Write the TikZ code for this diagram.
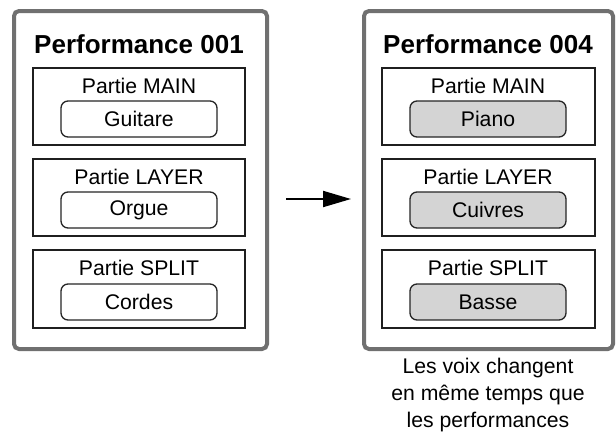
\documentclass[tikz,border=0pt]{standalone}
\usepackage{fontspec}
\setmainfont{Liberation Sans}
\usetikzlibrary{arrows.meta}
\definecolor{outergray}{HTML}{707070}
\definecolor{voicegray}{HTML}{D4D4D4}
\tikzset{
  outerbox/.style={draw=outergray, line width=4pt, rounded corners=5pt, fill=white},
  partbox/.style={draw=black!88, line width=2.6pt},
  voicebox/.style={draw=black!85, line width=1.3pt, rounded corners=7pt, minimum width=156pt, minimum height=36pt, inner sep=0pt, font=\fontsize{21.2}{24}\selectfont},
  newvoice/.style={voicebox, fill=voicegray},
  oldvoice/.style={voicebox, fill=white},
  titletext/.style={font=\fontsize{26}{30}\selectfont\bfseries, inner sep=0pt},
  parttext/.style={font=\fontsize{21.2}{24}\selectfont, inner sep=0pt},
  captext/.style={font=\fontsize{21.2}{27}\selectfont, align=center, inner sep=0pt},
}
\begin{document}
\begin{tikzpicture}[x=1pt,y=-1pt]
\useasboundingbox (0,0) rectangle (616,432);
% left performance
\draw[outerbox] (14,11) rectangle (267,349);
\node[titletext] (t1) at (139,44) {Performance 001};
\draw[partbox] (33,68) rectangle (245,145);
\draw[partbox] (33,159) rectangle (245,236);
\draw[partbox] (33,250) rectangle (245,328);
\node[parttext] (p1a) at (139,86) {Partie MAIN};
\node[parttext] (p1b) at (139,177) {Partie LAYER};
\node[parttext] (p1c) at (139,268) {Partie SPLIT};
\node[oldvoice] (v1a) at (139,119) {Guitare};
\node[oldvoice] (v1b) at (139,210) {Orgue};
\node[oldvoice] (v1c) at (139,302) {Cordes};
% right performance
\draw[outerbox] (364,11) rectangle (613,349);
\node[titletext] (t2) at (488,44) {Performance 004};
\draw[partbox] (382,68) rectangle (595,145);
\draw[partbox] (382,159) rectangle (595,236);
\draw[partbox] (382,250) rectangle (595,328);
\node[parttext] (p2a) at (488,86) {Partie MAIN};
\node[parttext] (p2b) at (488,177) {Partie LAYER};
\node[parttext] (p2c) at (488,268) {Partie SPLIT};
\node[newvoice] (v2a) at (488,119) {Piano};
\node[newvoice] (v2b) at (488,210) {Cuivres};
\node[newvoice] (v2c) at (488,302) {Basse};
% arrow
\coordinate (as) at (286,199);
\coordinate (ae) at (351,199);
\draw[line width=2pt, -{Triangle[length=28pt,width=16pt]}] (as) -- (ae);
% caption
\node[captext] (cap) at (488,395) {Les voix changent\\en même temps que\\les performances};
\end{tikzpicture}
\end{document}
